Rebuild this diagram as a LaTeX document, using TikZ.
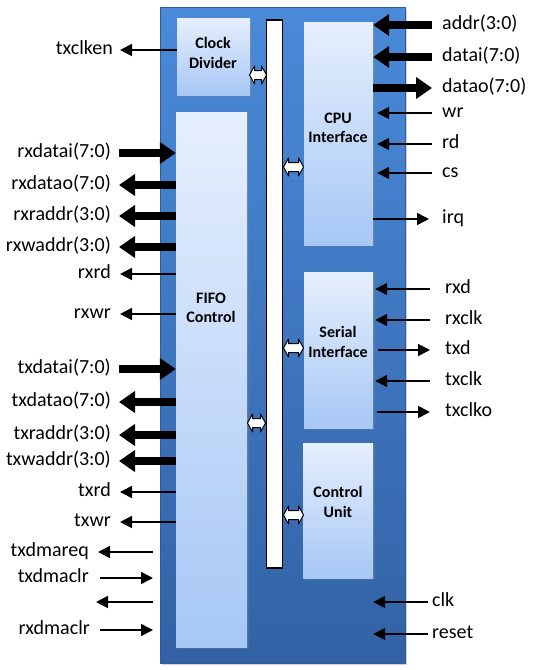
\documentclass[tikz,border=0pt]{standalone}
\usepackage{fontspec}
\setmainfont{Carlito}
\usetikzlibrary{arrows.meta,shadows}
\definecolor{outertop}{HTML}{4A8AD9}
\definecolor{outerbot}{HTML}{3262A5}
\definecolor{outerline}{HTML}{2E5B99}
\definecolor{innertop}{HTML}{E6EFFD}
\definecolor{innerbot}{HTML}{A7C7F5}
\newcommand\busarrowat[2]{%
  \draw[busarr] (#1) ++(-#2,0) -- ++(5,-9) -- ++(0,4.5) -- ++(2*#2-10,0) -- ++(0,-4.5) -- ++(5,9)
     -- ++(-5,9) -- ++(0,-4.5) -- ++(10-2*#2,0) -- ++(0,4.5) -- cycle;}
\begin{document}
\begin{tikzpicture}[x=1pt,y=-1pt,
  outerbox/.style={rectangle, draw=outerline, line width=0.6pt, top color=outertop, bottom color=outerbot, inner sep=0,
    drop shadow={shadow xshift=2pt, shadow yshift=-2pt, opacity=0.35}},
  blockbox/.style={rectangle, top color=innertop, bottom color=innerbot, inner sep=0,
    drop shadow={shadow xshift=1.5pt, shadow yshift=-1.5pt, opacity=0.3}},
  busbar/.style={rectangle, fill=white, draw=black, line width=1.8pt, inner sep=0},
  busarr/.style={fill=white, draw=black, line width=1pt, line join=round},
  blocktext/.style={align=center, inner sep=0, font=\fontsize{16}{19.5}\selectfont\bfseries},
  siglabL/.style={anchor=east, inner sep=0, text height=13pt, text depth=4pt, font=\fontsize{20}{23}\selectfont},
  siglabR/.style={anchor=west, inner sep=0, text height=13pt, text depth=4pt, font=\fontsize{20}{23}\selectfont},
  thk/.style={line width=8pt, -{Triangle[length=16pt,width=21pt]}},
  thn/.style={line width=1.6pt, -{Triangle[length=12pt,width=12pt]}}
]
\useasboundingbox (0,0) rectangle (536,670);

% outer box
\node[outerbox, minimum width=245pt, minimum height=656pt] (outer) at (282.5,335) {};

% blocks
\node[blockbox, minimum width=73pt, minimum height=77pt] (clkdiv) at (213.5,56.5) {};
\node[blockbox, minimum width=71pt, minimum height=535pt] (fifo) at (211.5,379.5) {};
\node[blockbox, minimum width=69pt, minimum height=223pt] (cpu) at (338.5,133.5) {};
\node[blockbox, minimum width=69pt, minimum height=156pt] (serial) at (338.5,350) {};
\node[blockbox, minimum width=70pt, minimum height=135pt] (ctrl) at (338,510.5) {};

% bus
\node[busbar, minimum width=16pt, minimum height=548pt] (bus) at (274.5,294) {};

% bus arrows (between blocks and bus)
\coordinate (ba1) at (258,75);
\coordinate (ba2) at (293.5,167);
\coordinate (ba3) at (293.5,348);
\coordinate (ba4) at (256.5,423);
\coordinate (ba5) at (293.5,515);
\busarrowat{ba1}{8.5}
\busarrowat{ba2}{10}
\busarrowat{ba3}{10}
\busarrowat{ba4}{9}
\busarrowat{ba5}{10}

% block texts
\node[blocktext] (tclk) at (213,53) {Clock\\Divider};
\node[blocktext] (tcpu) at (338,128) {CPU\\Interface};
\node[blocktext] (tfifo) at (211,308) {FIFO\\Control};
\node[blocktext] (tser) at (338,342) {Serial\\Interface};
\node[blocktext] (tctl) at (338,502) {Control\\Unit};

% ---- left side ----
\node[siglabL] (txclken) at (113,50) {txclken};
\draw[thn, shorten >=7pt] (txclken.east -| clkdiv.west) -- (txclken.east);

\node[siglabL] (rxdatai) at (111,153) {rxdatai(7:0)};
\draw[thk, shorten <=8pt] (rxdatai.east) -- (rxdatai.east -| fifo.west);
\node[siglabL] (rxdatao) at (111,185) {rxdatao(7:0)};
\draw[thk, shorten >=8pt] (rxdatao.east -| fifo.west) -- (rxdatao.east);
\node[siglabL] (rxraddr) at (111,216) {rxraddr(3:0)};
\draw[thk, shorten >=8pt] (rxraddr.east -| fifo.west) -- (rxraddr.east);
\node[siglabL] (rxwaddr) at (111,247) {rxwaddr(3:0)};
\draw[thk, shorten >=8pt] (rxwaddr.east -| fifo.west) -- (rxwaddr.east);
\node[siglabL] (rxrd) at (111,274) {rxrd};
\draw[thn, shorten >=9pt] (rxrd.east -| fifo.west) -- (rxrd.east);
\node[siglabL] (rxwr) at (111,314) {rxwr};
\draw[thn, shorten >=9pt] (rxwr.east -| fifo.west) -- (rxwr.east);

\node[siglabL] (txdatai) at (111,369) {txdatai(7:0)};
\draw[thk, shorten <=8pt] (txdatai.east) -- (txdatai.east -| fifo.west);
\node[siglabL] (txdatao) at (111,402) {txdatao(7:0)};
\draw[thk, shorten >=8pt] (txdatao.east -| fifo.west) -- (txdatao.east);
\node[siglabL] (txraddr) at (111,435) {txraddr(3:0)};
\draw[thk, shorten >=8pt] (txraddr.east -| fifo.west) -- (txraddr.east);
\node[siglabL] (txwaddr) at (111,461) {txwaddr(3:0)};
\draw[thk, shorten >=8pt] (txwaddr.east -| fifo.west) -- (txwaddr.east);
\node[siglabL] (txrd) at (111,492) {txrd};
\draw[thn, shorten >=9pt] (txrd.east -| fifo.west) -- (txrd.east);
\node[siglabL] (txwr) at (111,522) {txwr};
\draw[thn, shorten >=9pt] (txwr.east -| fifo.west) -- (txwr.east);

\coordinate (bl) at (153,0);
\node[siglabL] (txdmareq) at (89,552) {txdmareq};
\draw[thn, shorten >=9pt] (txdmareq.east -| bl) -- (txdmareq.east);
\node[siglabL] (txdmaclr) at (89,578) {txdmaclr};
\draw[thn, shorten <=11pt] (txdmaclr.east) -- (txdmaclr.east -| bl);
\coordinate (unl) at (96,602);
\draw[thn] (unl -| bl) -- (unl);
\node[siglabL] (rxdmaclr) at (90,630) {rxdmaclr};
\draw[thn, shorten <=10pt] (rxdmaclr.east) -- (rxdmaclr.east -| bl);

% ---- right side: CPU ----
\node[siglabR] (addr) at (442,25) {addr(3:0)};
\draw[thk, shorten <=10pt] (addr.west) -- (addr.west -| cpu.east);
\node[siglabR] (datai) at (442,57) {datai(7:0)};
\draw[thk, shorten <=10pt] (datai.west) -- (datai.west -| cpu.east);
\node[siglabR] (datao) at (442,88) {datao(7:0)};
\draw[thk, shorten >=10pt] (datao.west -| cpu.east) -- (datao.west);
\node[siglabR] (wr) at (442,113) {wr};
\draw[thn, shorten <=10pt, shorten >=4pt] (wr.west) -- (wr.west -| cpu.east);
\node[siglabR] (rd) at (442,144) {rd};
\draw[thn, shorten <=10pt, shorten >=4pt] (rd.west) -- (rd.west -| cpu.east);
\node[siglabR] (cs) at (442,173) {cs};
\draw[thn, shorten <=10pt, shorten >=4pt] (cs.west) -- (cs.west -| cpu.east);
\node[siglabR] (irq) at (442,219) {irq};
\draw[thn, shorten >=13pt] (irq.west -| cpu.east) -- (irq.west);

% ---- right side: Serial ----
\node[siglabR] (rxd) at (445,289) {rxd};
\draw[thn, shorten <=15pt, shorten >=2pt] (rxd.west) -- (rxd.west -| serial.east);
\node[siglabR] (rxclk) at (445,320) {rxclk};
\draw[thn, shorten <=15pt, shorten >=2pt] (rxclk.west) -- (rxclk.west -| serial.east);
\node[siglabR] (txd) at (445,350) {txd};
\draw[thn, shorten <=5pt, shorten >=15pt] (txd.west -| serial.east) -- (txd.west);
\node[siglabR] (txclk) at (445,381) {txclk};
\draw[thn, shorten <=15pt, shorten >=2pt] (txclk.west) -- (txclk.west -| serial.east);
\node[siglabR] (txclko) at (445,412) {txclko};
\draw[thn, shorten <=4pt, shorten >=15pt] (txclko.west -| serial.east) -- (txclko.west);

% ---- right side: clk / reset ----
\node[siglabR] (clk) at (432,602) {clk};
\draw[thn, shorten <=4pt] (clk.west) -- (clk.west -| ctrl.east);
\node[siglabR] (reset) at (432,634) {reset};
\draw[thn, shorten <=4pt] (reset.west) -- (reset.west -| ctrl.east);
\end{tikzpicture}
\end{document}
